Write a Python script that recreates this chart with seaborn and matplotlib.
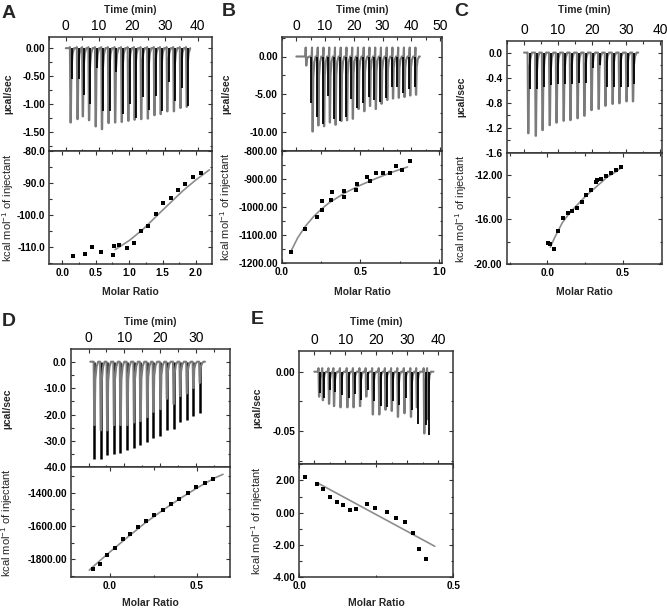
import matplotlib
matplotlib.use("Agg")
import matplotlib.pyplot as plt
import seaborn as sns
from matplotlib.ticker import MultipleLocator, FormatStrFormatter

# ---- panel A ----
A_times = [1.4, 3.5, 5.1, 7.0, 9.0, 10.9, 12.9, 14.9, 16.9, 18.9, 20.8, 22.8, 24.8, 26.8, 28.7, 30.7, 32.7, 34.7, 36.6]
A_gray = [-1.33, -1.27, -1.22, -1.29, -1.40, -1.45, -1.34, -1.33, -1.32, -1.30, -1.28, -1.27, -1.26, -1.20, -1.18, -1.13, -1.13, -1.07, -1.05]
A_black = [-0.55, -0.55, -0.83, -1.0, -0.35, -1.13, -1.13, -0.42, -1.18, -1.0, -1.25, -0.87, -1.1, -0.85, -1.12, -0.6, -0.95, -0.72, -1.03]
A_ratio = [0.155, 0.345, 0.45, 0.575, 0.755, 0.77, 0.85, 0.97, 1.075, 1.17, 1.285, 1.395, 1.51, 1.62, 1.725, 1.835, 1.955, 2.07]
A_heat = [-112.9, -112.3, -110.1, -111.7, -112.6, -109.8, -109.3, -110.2, -108.6, -105.0, -103.3, -99.8, -96.3, -94.8, -92.3, -90.2, -88.2, -86.9]
A_fit_x = [0.79, 1.0, 1.2, 1.5, 1.8, 2.0, 2.2]
A_fit_y = [-110.8, -108.0, -104.6, -98.5, -92.5, -89.0, -85.9]

# ---- panel B ----
B_times = [3.4, 5.6, 7.6, 9.6, 11.6, 13.6, 15.6, 17.6, 19.6, 21.6, 23.6, 25.6, 27.6, 29.6, 31.6, 33.6, 35.6, 37.6, 39.6, 41.6]
B_gray = [-1.2, -10.0, -9.2, -9.3, -8.8, -9.1, -8.6, -8.5, -8.3, -7.0, -7.3, -6.6, -7.0, -6.3, -5.8, -5.6, -5.5, -5.4, -5.2, -5.1]
B_black = [0, -6.2, -8.0, -9.0, -5.3, -8.3, -8.6, -8.1, -5.6, -6.8, -6.2, -5.4, -5.8, -6.0, -5.5, -4.1, -4.0, -4.8, -4.3, -4.0]
B_ratio = [0.06, 0.149, 0.223, 0.253, 0.255, 0.311, 0.317, 0.394, 0.398, 0.474, 0.479, 0.545, 0.56, 0.6, 0.645, 0.687, 0.728, 0.766, 0.817]
B_heat = [-1160, -1077, -1034, -1010, -979, -975, -948, -966, -942, -940, -917, -892, -907, -880, -878, -880, -855, -867, -837]
B_fit_x = [0.06, 0.1, 0.15, 0.2, 0.25, 0.3, 0.4, 0.5, 0.6, 0.7, 0.8]
B_fit_y = [-1155, -1110, -1068, -1035, -1008, -985, -950, -922, -898, -876, -857]

# ---- panel C ----
C_times = [1.2, 3.4, 5.4, 7.5, 9.5, 11.6, 13.6, 15.7, 17.7, 19.8, 21.9, 23.9, 26.0, 28.0, 30.1, 32.0]
C_gray = [-1.29, -1.33, -1.24, -1.16, -1.12, -1.09, -1.08, -1.05, -1.01, -0.92, -0.90, -0.85, -0.82, -0.81, -0.78, -0.78]
C_black = [-0.58, -0.58, -0.55, -0.52, -0.50, -0.50, -0.50, -0.48, -0.48, -0.25, -0.20, -0.55, -0.55, -0.55, -0.55, -0.50]
C_ratio = [0.007, 0.018, 0.044, 0.073, 0.104, 0.135, 0.164, 0.195, 0.228, 0.259, 0.292, 0.323, 0.327, 0.358, 0.389, 0.42, 0.456, 0.491]
C_heat = [-18.16, -18.19, -18.7, -17.07, -15.93, -15.42, -15.27, -15.0, -14.49, -13.8, -13.41, -12.63, -12.51, -12.39, -12.15, -11.85, -11.6, -11.37]
C_fit_x = [0.02, 0.05, 0.1, 0.15, 0.2, 0.25, 0.3, 0.35, 0.4, 0.45, 0.49]
C_fit_y = [-18.5, -17.6, -16.3, -15.4, -14.7, -14.0, -13.4, -12.8, -12.2, -11.8, -11.4]

# ---- panel D ----
D_times = [1.6, 3.4, 5.2, 7.1, 8.9, 10.8, 12.7, 14.5, 16.4, 18.1, 20.1, 21.9, 23.8, 25.6, 27.5, 29.3, 31.1]
D_gray = [-24, -26, -26, -24, -24, -24, -23, -22.5, -21, -19, -18, -14, -16, -13, -12, -10, -8]
D_black = [-37, -37, -35.5, -35, -34.5, -33.5, -32.5, -31.5, -30.5, -29, -28, -26, -25.5, -23, -22, -20.5, -19.5]
D_ratio = [-0.1, -0.058, -0.015, 0.029, 0.073, 0.117, 0.162, 0.206, 0.252, 0.302, 0.348, 0.398, 0.446, 0.496, 0.544, 0.59]
D_heat = [-1860, -1826, -1776, -1730, -1680, -1646, -1608, -1568, -1536, -1506, -1466, -1436, -1404, -1368, -1344, -1320]
D_fit_x = [-0.12, -0.05, 0.0, 0.1, 0.2, 0.3, 0.4, 0.5, 0.6, 0.65]
D_fit_y = [-1865, -1800, -1755, -1668, -1583, -1508, -1437, -1372, -1313, -1290]

# ---- panel E ----
E_times = [1.5, 2.7, 4.7, 6.3, 8.4, 10.6, 12.6, 14.7, 16.7, 18.8, 20.9, 22.9, 24.9, 26.9, 29.0, 31.1, 33.0, 35.4, 36.5]
E_gray = [-0.021, -0.024, -0.027, -0.029, -0.030, -0.030, -0.030, -0.029, -0.021, -0.036, -0.036, -0.032, -0.033, -0.038, -0.035, -0.038, -0.030, -0.052, -0.040]
E_black = [-0.018, -0.022, -0.015, -0.017, -0.020, -0.022, -0.019, -0.024, -0.015, -0.025, -0.029, -0.030, -0.025, -0.028, -0.022, -0.032, -0.044, -0.045, -0.053]
E_ratio = [0.017, 0.059, 0.078, 0.1, 0.121, 0.143, 0.164, 0.185, 0.22, 0.247, 0.285, 0.314, 0.342, 0.37, 0.39, 0.412]
E_heat = [2.21, 1.75, 1.46, 0.99, 0.66, 0.45, 0.16, 0.21, 0.56, 0.29, 0.06, -0.31, -0.56, -1.28, -2.23, -2.87]
E_fit_x = [0.06, 0.44]
E_fit_y = [1.84, -2.08]

sns.set_style("ticks")
plt.rcParams['font.family'] = ['Liberation Sans', 'DejaVu Sans']
plt.rcParams['axes.unicode_minus'] = False
plt.rcParams['mathtext.fontset'] = 'custom'
plt.rcParams['mathtext.rm'] = 'Liberation Sans'
plt.rcParams['mathtext.default'] = 'regular'

W, H = 667, 608
fig = plt.figure(figsize=(W / 100, H / 100), dpi=100)


def box(x0, y0, x1, y1):
    return [x0 / W, 1 - y1 / H, (x1 - x0) / W, (y1 - y0) / H]


# layout in pixels of the reference picture
panels = [
    dict(letter='A', lxy=(2, 13), x0=49.3, x1=212, y0=37, ym=151, y1=264, t_lab=10, m_lab=292, ylab=8,
         tlim=(-5, 44.3), t0=0.0, t1=37.7, up=0.02, off=0.45,
         ylim_t=(-1.84, 0.2), st_t=0.5, fmt_t='%.2f',
         xlim_b=(-0.195, 2.24), ylim_b=(-115.3, -80), st_b=10, fmt_b='%.1f',
         d=(A_times, A_gray, A_black, A_ratio, A_heat, A_fit_x, A_fit_y)),
    dict(letter='B', lxy=(222, 12), x0=282, x1=442, y0=37, ym=151, y1=263, t_lab=10, m_lab=292, ylab=226,
         tlim=(-5, 50.7), t0=0.0, t1=43.0, up=1.2, off=-0.45,
         ylim_t=(-12.6, 2.6), st_t=5, fmt_t='%.2f',
         xlim_b=(0, 1.02), ylim_b=(-1200, -800), st_b=100, fmt_b='%.2f',
         d=(B_times, B_gray, B_black, B_ratio, B_heat, B_fit_x, B_fit_y)),
    dict(letter='C', lxy=(454, 11), x0=506.7, x1=661.7, y0=40.7, ym=152.7, y1=264, t_lab=10, m_lab=292, ylab=461,
         tlim=(-5.1, 40.5), t0=0.0, t1=33.6, up=0.0, off=0.45,
         ylim_t=(-1.6, 0.19), st_t=0.4, fmt_t='%.1f',
         xlim_b=(-0.27, 0.76), ylim_b=(-20, -10.05), st_b=4, fmt_b='%.2f',
         d=(C_times, C_gray, C_black, C_ratio, C_heat, C_fit_x, C_fit_y)),
    dict(letter='D', lxy=(2, 321), x0=71, x1=230, y0=349.3, ym=467.3, y1=577.3, t_lab=322, m_lab=603, ylab=7,
         tlim=(-4.9, 39.6), t0=0.5, t1=32.6, up=0.0, off=0.0,
         ylim_t=(-40, 4.7), st_t=10, fmt_t='%.1f',
         xlim_b=(-0.225, 0.69), ylim_b=(-1908, -1248), st_b=200, fmt_b='%.2f',
         d=(D_times, D_gray, D_black, D_ratio, D_heat, D_fit_x, D_fit_y)),
    dict(letter='E', lxy=(251, 320), x0=299.3, x1=453.3, y0=350.7, ym=464.3, y1=577.3, t_lab=322, m_lab=603, ylab=257,
         tlim=(-4.84, 44.8), t0=0.0, t1=38.4, up=0.003, off=0.45,
         ylim_t=(-0.078, 0.0177), st_t=0.05, fmt_t='%.2f',
         xlim_b=(0, 0.5), ylim_b=(-4, 3.0), st_b=2, fmt_b='%.2f',
         d=(E_times, E_gray, E_black, E_ratio, E_heat, E_fit_x, E_fit_y)),
]

TRACE = '#7b7b7b'
FIT = '#8c8c8c'


def style(ax):
    for s in ax.spines.values():
        s.set_visible(True)
        s.set_color('#333333')
        s.set_linewidth(1.1)
    ax.tick_params(which='both', direction='in', top=True, right=True, width=0.8, colors='#333333',
                   labelcolor='black', pad=3)
    ax.tick_params(which='major', length=3)
    ax.tick_params(which='minor', length=1.8)
    for lab in ax.get_xticklabels() + ax.get_yticklabels():
        lab.set_fontsize(7.2)
        lab.set_fontweight('bold')


for p in panels:
    times, gray, black, ratio, heat, fit_x, fit_y = p['d']
    top = fig.add_axes(box(p['x0'], p['y0'], p['x1'], p['ym']))
    bot = fig.add_axes(box(p['x0'], p['ym'], p['x1'], p['y1']))

    # raw injection trace: baseline, small bump, sharp dip, return
    xs, ys = [p['t0']], [0.0]
    for t, g in zip(times, gray):
        xs += [t - 0.3, t - 0.15, t, t + 0.12, t + 0.3, t + 0.65, t + 1.1]
        ys += [0.0, p['up'], g, g, 0.28 * g, 0.08 * g, 0.0]
    xs.append(p['t1'])
    ys.append(0.0)
    top.vlines([t + p['off'] for t in times], 0, black, color='black',
               lw=1.8 if p['off'] == 0 else 1.3, zorder=2)
    top.plot(xs, ys, color=TRACE, lw=1.5, zorder=3 if p['off'] == 0 else 1)
    top.set_xlim(*p['tlim'])
    top.set_ylim(*p['ylim_t'])
    top.xaxis.set_major_locator(MultipleLocator(10))
    top.xaxis.set_minor_locator(MultipleLocator(5))
    top.yaxis.set_major_locator(MultipleLocator(p['st_t']))
    top.yaxis.set_minor_locator(MultipleLocator(p['st_t'] / 2))
    top.yaxis.set_major_formatter(FormatStrFormatter(p['fmt_t']))
    top.xaxis.set_major_formatter(FormatStrFormatter('%d'))
    style(top)
    top.tick_params(axis='x', labeltop=True, labelbottom=False)
    top.xaxis.set_label_position('top')
    top.set_xlabel('Time (min)', fontsize=7.5, fontweight='bold', va='center')
    top.xaxis.set_label_coords(((p['x0'] + p['x1']) / 2) / W, 1 - p['t_lab'] / H, transform=fig.transFigure)
    top.set_ylabel('µcal/sec', fontsize=7.5, fontweight='bold', va='center')
    top.yaxis.set_label_coords(p['ylab'] / W, 1 - ((p['y0'] + p['ym']) / 2) / H, transform=fig.transFigure)

    # binding isotherm
    sns.lineplot(x=fit_x, y=fit_y, color=FIT, lw=1.2, ax=bot, sort=False, zorder=1)
    sns.scatterplot(x=ratio, y=heat, marker='s', color='black', s=11, linewidth=0, ax=bot, zorder=2)
    bot.set_xlim(*p['xlim_b'])
    bot.set_ylim(*p['ylim_b'])
    bot.xaxis.set_major_locator(MultipleLocator(0.5))
    bot.xaxis.set_minor_locator(MultipleLocator(0.25))
    bot.xaxis.set_major_formatter(FormatStrFormatter('%.1f'))
    bot.yaxis.set_major_locator(MultipleLocator(p['st_b']))
    bot.yaxis.set_minor_locator(MultipleLocator(p['st_b'] / 2))
    bot.yaxis.set_major_formatter(FormatStrFormatter(p['fmt_b']))
    style(bot)
    bot.set_xlabel('Molar Ratio', fontsize=7.5, fontweight='bold', va='center')
    bot.xaxis.set_label_coords(((p['x0'] + p['x1']) / 2) / W, 1 - p['m_lab'] / H, transform=fig.transFigure)
    bot.set_ylabel('kcal mol$^{-1}$ of injectant', fontsize=8, va='center')
    bot.yaxis.set_label_coords(p['ylab'] / W, 1 - ((p['ym'] + p['y1']) / 2) / H, transform=fig.transFigure)

    fig.text(p['lxy'][0] / W, 1 - p['lxy'][1] / H, p['letter'], fontsize=14, fontweight='bold',
             ha='left', va='center')

fig.savefig('out.png', dpi=100, facecolor='white')
